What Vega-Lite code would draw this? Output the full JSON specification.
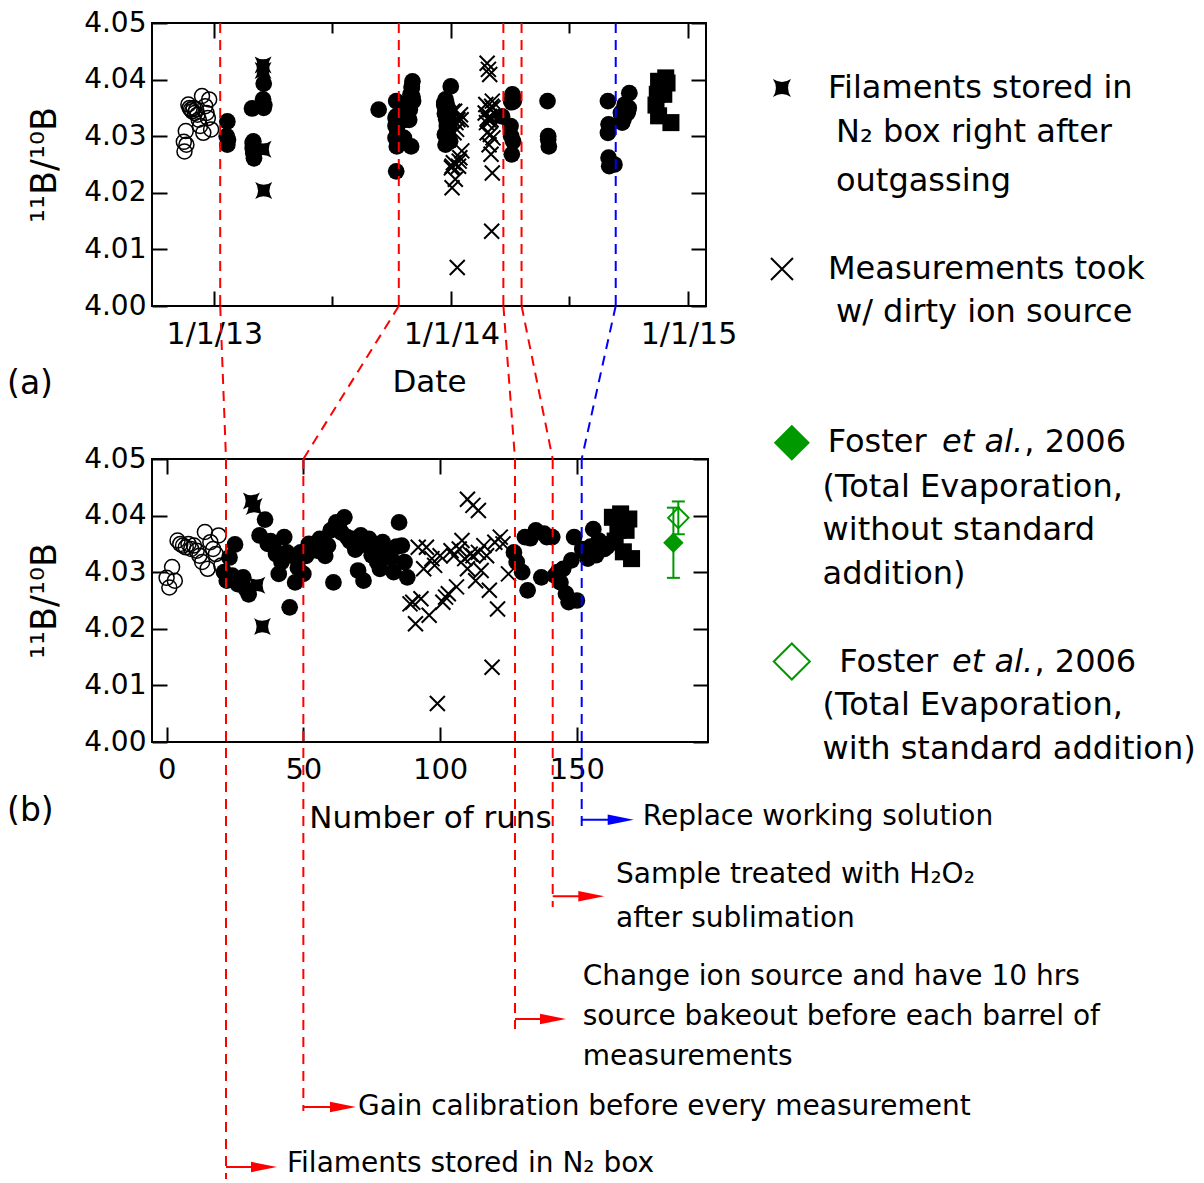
{
  "$schema": "https://vega.github.io/schema/vega-lite/v6.json",
  "padding": {"left": 6, "top": 8, "right": 4, "bottom": 4},
  "background": "white",
  "spacing": 153,
  "bounds": "flush",
  "config": {
    "font": "DejaVu Sans",
    "view": {"stroke": "black", "strokeWidth": 2},
    "axis": {
      "domain": false,
      "grid": false,
      "tickColor": "black",
      "tickWidth": 2,
      "labelColor": "black",
      "labelFont": "DejaVu Sans",
      "titleFont": "DejaVu Sans",
      "titleFontWeight": "normal",
      "titleColor": "black",
      "labelFlush": false,
      "labelOverlap": false
    }
  },
  "datasets": {
    "runs": [
      {"run": 0, "date": "2012-11-15", "ratio": 4.0290, "type": "open"},
      {"run": 1, "date": "2012-11-16", "ratio": 4.0273, "type": "open"},
      {"run": 2, "date": "2012-11-18", "ratio": 4.0309, "type": "open"},
      {"run": 3, "date": "2012-11-19", "ratio": 4.0285, "type": "open"},
      {"run": 4, "date": "2012-11-22", "ratio": 4.0356, "type": "open"},
      {"run": 5, "date": "2012-11-24", "ratio": 4.0350, "type": "open"},
      {"run": 6, "date": "2012-11-26", "ratio": 4.0347, "type": "open"},
      {"run": 7, "date": "2012-11-28", "ratio": 4.0344, "type": "open"},
      {"run": 8, "date": "2012-11-30", "ratio": 4.0350, "type": "open"},
      {"run": 9, "date": "2012-12-02", "ratio": 4.0341, "type": "open"},
      {"run": 10, "date": "2012-12-04", "ratio": 4.0347, "type": "open"},
      {"run": 11, "date": "2012-12-06", "ratio": 4.0338, "type": "open"},
      {"run": 12, "date": "2012-12-08", "ratio": 4.0329, "type": "open"},
      {"run": 13, "date": "2012-12-10", "ratio": 4.0318, "type": "open"},
      {"run": 14, "date": "2012-12-13", "ratio": 4.0371, "type": "open"},
      {"run": 15, "date": "2012-12-15", "ratio": 4.0306, "type": "open"},
      {"run": 16, "date": "2012-12-18", "ratio": 4.0353, "type": "open"},
      {"run": 17, "date": "2012-12-20", "ratio": 4.0341, "type": "open"},
      {"run": 18, "date": "2012-12-22", "ratio": 4.0332, "type": "open"},
      {"run": 19, "date": "2012-12-24", "ratio": 4.0365, "type": "open"},
      {"run": 20, "date": "2012-12-27", "ratio": 4.0312, "type": "open"},
      {"run": 21, "date": "2013-01-20", "ratio": 4.0300, "type": "filled"},
      {"run": 22, "date": "2013-01-21", "ratio": 4.0285, "type": "filled"},
      {"run": 23, "date": "2013-01-21", "ratio": 4.0326, "type": "filled"},
      {"run": 24, "date": "2013-01-22", "ratio": 4.0294, "type": "filled"},
      {"run": 25, "date": "2013-02-28", "ratio": 4.0349, "type": "filled"},
      {"run": 26, "date": "2013-03-01", "ratio": 4.0279, "type": "filled"},
      {"run": 27, "date": "2013-03-01", "ratio": 4.0288, "type": "filled"},
      {"run": 28, "date": "2013-03-02", "ratio": 4.0291, "type": "filled"},
      {"run": 29, "date": "2013-03-02", "ratio": 4.0270, "type": "filled"},
      {"run": 30, "date": "2013-03-03", "ratio": 4.0261, "type": "filled"},
      {"run": 31, "date": "2013-03-17", "ratio": 4.0426, "type": "star"},
      {"run": 32, "date": "2013-03-17", "ratio": 4.0416, "type": "star"},
      {"run": 33, "date": "2013-03-17", "ratio": 4.0277, "type": "star"},
      {"run": 34, "date": "2013-03-17", "ratio": 4.0365, "type": "filled"},
      {"run": 35, "date": "2013-03-18", "ratio": 4.0204, "type": "star"},
      {"run": 36, "date": "2013-03-18", "ratio": 4.0393, "type": "filled"},
      {"run": 37, "date": "2013-03-18", "ratio": 4.0350, "type": "filled"},
      {"run": 38, "date": "2013-03-19", "ratio": 4.0355, "type": "filled"},
      {"run": 39, "date": "2013-09-11", "ratio": 4.0347, "type": "filled"},
      {"run": 40, "date": "2013-10-07", "ratio": 4.0332, "type": "filled"},
      {"run": 41, "date": "2013-10-07", "ratio": 4.0297, "type": "filled"},
      {"run": 42, "date": "2013-10-07", "ratio": 4.0318, "type": "filled"},
      {"run": 43, "date": "2013-10-08", "ratio": 4.0362, "type": "filled"},
      {"run": 44, "date": "2013-10-08", "ratio": 4.0335, "type": "filled"},
      {"run": 45, "date": "2013-10-08", "ratio": 4.0238, "type": "filled"},
      {"run": 46, "date": "2013-10-09", "ratio": 4.0329, "type": "filled"},
      {"run": 47, "date": "2013-10-09", "ratio": 4.0282, "type": "filled"},
      {"run": 48, "date": "2013-10-10", "ratio": 4.0308, "type": "filled"},
      {"run": 49, "date": "2013-10-10", "ratio": 4.0335, "type": "filled"},
      {"run": 50, "date": "2013-10-20", "ratio": 4.0297, "type": "filled"},
      {"run": 51, "date": "2013-10-21", "ratio": 4.0329, "type": "filled"},
      {"run": 52, "date": "2013-10-22", "ratio": 4.0350, "type": "filled"},
      {"run": 53, "date": "2013-10-23", "ratio": 4.0341, "type": "filled"},
      {"run": 54, "date": "2013-10-24", "ratio": 4.0344, "type": "filled"},
      {"run": 55, "date": "2013-10-25", "ratio": 4.0338, "type": "filled"},
      {"run": 56, "date": "2013-10-26", "ratio": 4.0359, "type": "filled"},
      {"run": 57, "date": "2013-10-27", "ratio": 4.0352, "type": "filled"},
      {"run": 58, "date": "2013-10-28", "ratio": 4.0329, "type": "filled"},
      {"run": 59, "date": "2013-10-29", "ratio": 4.0347, "type": "filled"},
      {"run": 60, "date": "2013-10-30", "ratio": 4.0374, "type": "filled"},
      {"run": 61, "date": "2013-10-31", "ratio": 4.0282, "type": "filled"},
      {"run": 62, "date": "2013-11-01", "ratio": 4.0388, "type": "filled"},
      {"run": 63, "date": "2013-11-01", "ratio": 4.0385, "type": "filled"},
      {"run": 64, "date": "2013-11-02", "ratio": 4.0370, "type": "filled"},
      {"run": 65, "date": "2013-11-02", "ratio": 4.0397, "type": "filled"},
      {"run": 66, "date": "2013-11-03", "ratio": 4.0362, "type": "filled"},
      {"run": 67, "date": "2013-12-21", "ratio": 4.0355, "type": "filled"},
      {"run": 68, "date": "2013-12-21", "ratio": 4.0359, "type": "filled"},
      {"run": 69, "date": "2013-12-22", "ratio": 4.0340, "type": "filled"},
      {"run": 70, "date": "2013-12-22", "ratio": 4.0303, "type": "filled"},
      {"run": 71, "date": "2013-12-23", "ratio": 4.0365, "type": "filled"},
      {"run": 72, "date": "2013-12-23", "ratio": 4.0285, "type": "filled"},
      {"run": 73, "date": "2013-12-23", "ratio": 4.0348, "type": "filled"},
      {"run": 74, "date": "2013-12-24", "ratio": 4.0359, "type": "filled"},
      {"run": 75, "date": "2013-12-24", "ratio": 4.0330, "type": "filled"},
      {"run": 76, "date": "2013-12-24", "ratio": 4.0347, "type": "filled"},
      {"run": 77, "date": "2013-12-25", "ratio": 4.0318, "type": "filled"},
      {"run": 78, "date": "2013-12-25", "ratio": 4.0306, "type": "filled"},
      {"run": 79, "date": "2013-12-25", "ratio": 4.0353, "type": "filled"},
      {"run": 80, "date": "2013-12-26", "ratio": 4.0340, "type": "filled"},
      {"run": 81, "date": "2013-12-26", "ratio": 4.0335, "type": "filled"},
      {"run": 82, "date": "2013-12-27", "ratio": 4.0325, "type": "filled"},
      {"run": 83, "date": "2013-12-27", "ratio": 4.0300, "type": "filled"},
      {"run": 84, "date": "2013-12-28", "ratio": 4.0345, "type": "filled"},
      {"run": 85, "date": "2013-12-31", "ratio": 4.0388, "type": "filled"},
      {"run": 86, "date": "2013-12-28", "ratio": 4.0347, "type": "filled"},
      {"run": 87, "date": "2013-12-29", "ratio": 4.0318, "type": "filled"},
      {"run": 88, "date": "2013-12-30", "ratio": 4.0291, "type": "filled"},
      {"run": 89, "date": "2014-01-01", "ratio": 4.0244, "type": "dirty"},
      {"run": 90, "date": "2014-01-02", "ratio": 4.0247, "type": "dirty"},
      {"run": 91, "date": "2014-01-02", "ratio": 4.0209, "type": "dirty"},
      {"run": 92, "date": "2014-01-03", "ratio": 4.0344, "type": "dirty"},
      {"run": 93, "date": "2014-01-04", "ratio": 4.0253, "type": "dirty"},
      {"run": 94, "date": "2014-01-05", "ratio": 4.0306, "type": "dirty"},
      {"run": 95, "date": "2014-01-06", "ratio": 4.0344, "type": "dirty"},
      {"run": 96, "date": "2014-01-07", "ratio": 4.0224, "type": "dirty"},
      {"run": 97, "date": "2014-01-08", "ratio": 4.0324, "type": "dirty"},
      {"run": 98, "date": "2014-01-09", "ratio": 4.0312, "type": "dirty"},
      {"run": 99, "date": "2014-01-10", "ratio": 4.0068, "type": "dirty"},
      {"run": 100, "date": "2014-01-11", "ratio": 4.0329, "type": "dirty"},
      {"run": 101, "date": "2014-01-12", "ratio": 4.0247, "type": "dirty"},
      {"run": 102, "date": "2014-01-13", "ratio": 4.0256, "type": "dirty"},
      {"run": 103, "date": "2014-01-14", "ratio": 4.0262, "type": "dirty"},
      {"run": 104, "date": "2014-01-15", "ratio": 4.0338, "type": "dirty"},
      {"run": 105, "date": "2014-01-16", "ratio": 4.0329, "type": "dirty"},
      {"run": 106, "date": "2014-01-17", "ratio": 4.0274, "type": "dirty"},
      {"run": 107, "date": "2014-02-22", "ratio": 4.0341, "type": "dirty"},
      {"run": 108, "date": "2014-02-23", "ratio": 4.0356, "type": "dirty"},
      {"run": 109, "date": "2014-02-24", "ratio": 4.0324, "type": "dirty"},
      {"run": 110, "date": "2014-02-25", "ratio": 4.0306, "type": "dirty"},
      {"run": 110, "date": "2014-02-25", "ratio": 4.0429, "type": "dirty"},
      {"run": 111, "date": "2014-02-26", "ratio": 4.0332, "type": "dirty"},
      {"run": 112, "date": "2014-02-27", "ratio": 4.0418, "type": "dirty"},
      {"run": 112, "date": "2014-02-27", "ratio": 4.0329, "type": "dirty"},
      {"run": 113, "date": "2014-02-28", "ratio": 4.0285, "type": "dirty"},
      {"run": 114, "date": "2014-03-01", "ratio": 4.0335, "type": "dirty"},
      {"run": 114, "date": "2014-03-01", "ratio": 4.0409, "type": "dirty"},
      {"run": 115, "date": "2014-03-02", "ratio": 4.0303, "type": "dirty"},
      {"run": 116, "date": "2014-03-02", "ratio": 4.0347, "type": "dirty"},
      {"run": 117, "date": "2014-03-03", "ratio": 4.0329, "type": "dirty"},
      {"run": 118, "date": "2014-03-03", "ratio": 4.0268, "type": "dirty"},
      {"run": 119, "date": "2014-03-04", "ratio": 4.0132, "type": "dirty"},
      {"run": 120, "date": "2014-03-04", "ratio": 4.0353, "type": "dirty"},
      {"run": 121, "date": "2014-03-05", "ratio": 4.0235, "type": "dirty"},
      {"run": 122, "date": "2014-03-05", "ratio": 4.0362, "type": "dirty"},
      {"run": 123, "date": "2014-03-06", "ratio": 4.0350, "type": "dirty"},
      {"run": 125, "date": "2014-03-06", "ratio": 4.0297, "type": "dirty"},
      {"run": 127, "date": "2014-03-20", "ratio": 4.0335, "type": "filled"},
      {"run": 128, "date": "2014-04-02", "ratio": 4.0318, "type": "filled"},
      {"run": 130, "date": "2014-04-03", "ratio": 4.0300, "type": "filled"},
      {"run": 131, "date": "2014-04-03", "ratio": 4.0362, "type": "filled"},
      {"run": 132, "date": "2014-04-04", "ratio": 4.0268, "type": "filled"},
      {"run": 133, "date": "2014-04-04", "ratio": 4.0360, "type": "filled"},
      {"run": 135, "date": "2014-04-05", "ratio": 4.0374, "type": "filled"},
      {"run": 137, "date": "2014-04-06", "ratio": 4.0291, "type": "filled"},
      {"run": 138, "date": "2014-04-06", "ratio": 4.0368, "type": "filled"},
      {"run": 139, "date": "2014-04-07", "ratio": 4.0362, "type": "filled"},
      {"run": 141, "date": "2014-05-29", "ratio": 4.0362, "type": "filled"},
      {"run": 142, "date": "2014-05-30", "ratio": 4.0294, "type": "filled"},
      {"run": 143, "date": "2014-05-30", "ratio": 4.0300, "type": "filled"},
      {"run": 144, "date": "2014-05-31", "ratio": 4.0282, "type": "filled"},
      {"run": 145, "date": "2014-08-30", "ratio": 4.0306, "type": "filled"},
      {"run": 146, "date": "2014-08-31", "ratio": 4.0262, "type": "filled"},
      {"run": 147, "date": "2014-09-01", "ratio": 4.0247, "type": "filled"},
      {"run": 148, "date": "2014-08-31", "ratio": 4.0321, "type": "filled"},
      {"run": 149, "date": "2014-08-30", "ratio": 4.0362, "type": "filled"},
      {"run": 150, "date": "2014-09-09", "ratio": 4.0250, "type": "filled"},
      {"run": 152, "date": "2014-09-19", "ratio": 4.0341, "type": "filled"},
      {"run": 153, "date": "2014-09-20", "ratio": 4.0335, "type": "filled"},
      {"run": 154, "date": "2014-09-21", "ratio": 4.0324, "type": "filled"},
      {"run": 155, "date": "2014-09-22", "ratio": 4.0345, "type": "filled"},
      {"run": 156, "date": "2014-10-02", "ratio": 4.0376, "type": "filled"},
      {"run": 157, "date": "2014-09-23", "ratio": 4.0330, "type": "filled"},
      {"run": 158, "date": "2014-09-25", "ratio": 4.0356, "type": "filled"},
      {"run": 159, "date": "2014-09-27", "ratio": 4.0350, "type": "filled"},
      {"run": 160, "date": "2014-09-29", "ratio": 4.0341, "type": "filled"},
      {"run": 161, "date": "2014-09-30", "ratio": 4.0345, "type": "filled"},
      {"run": 162, "date": "2014-10-01", "ratio": 4.0350, "type": "filled"},
      {"run": 163, "date": "2014-11-16", "ratio": 4.0397, "type": "square"},
      {"run": 164, "date": "2014-11-12", "ratio": 4.0355, "type": "square"},
      {"run": 165, "date": "2014-11-14", "ratio": 4.0374, "type": "square"},
      {"run": 166, "date": "2014-11-27", "ratio": 4.0403, "type": "square"},
      {"run": 167, "date": "2014-11-16", "ratio": 4.0336, "type": "square"},
      {"run": 168, "date": "2014-11-24", "ratio": 4.0374, "type": "square"},
      {"run": 169, "date": "2014-11-29", "ratio": 4.0394, "type": "square"},
      {"run": 170, "date": "2014-12-05", "ratio": 4.0324, "type": "square"}
    ],
    "foster": [
      {"run": 185.3, "ratio": 4.0352, "lo": 4.0290, "hi": 4.0414, "method": "without"},
      {"run": 187.1, "ratio": 4.0396, "lo": 4.0367, "hi": 4.0425, "method": "with"}
    ],
    "events": [
      {"date": "2013-01-10", "kind": "sample"},
      {"date": "2013-10-12", "kind": "sample"},
      {"date": "2014-03-22", "kind": "sample"},
      {"date": "2014-04-19", "kind": "sample"},
      {"date": "2014-09-11", "kind": "solution"}
    ],
    "guides": [
      {"x": 19.6, "x2": 21.72, "y": 4.07703, "y2": 4.05, "kind": "sample"},
      {"x": 21.72, "x2": 21.72, "y": 4.05, "y2": 3.9228, "kind": "sample"},
      {"x": 84.9, "x2": 50, "y": 4.07703, "y2": 4.05, "kind": "sample"},
      {"x": 50, "x2": 50, "y": 4.05, "y2": 3.93481, "kind": "sample"},
      {"x": 123.15, "x2": 127.39, "y": 4.07703, "y2": 4.05, "kind": "sample"},
      {"x": 127.39, "x2": 127.39, "y": 4.05, "y2": 3.94929, "kind": "sample"},
      {"x": 129.8, "x2": 141.17, "y": 4.07703, "y2": 4.05, "kind": "sample"},
      {"x": 141.17, "x2": 141.17, "y": 4.05, "y2": 3.97085, "kind": "sample"},
      {"x": 164.2, "x2": 151.77, "y": 4.07703, "y2": 4.05, "kind": "solution"},
      {"x": 151.77, "x2": 151.77, "y": 4.05, "y2": 3.98445, "kind": "solution"}
    ],
    "arrows": [
      {"x": 21.72, "x2": 35.61, "y": 3.92491, "kind": "sample"},
      {"x": 50, "x2": 64.5, "y": 3.93551, "kind": "sample"},
      {"x": 127.39, "x2": 141.28, "y": 3.95106, "kind": "sample"},
      {"x": 141.17, "x2": 155.28, "y": 3.97274, "kind": "sample"},
      {"x": 151.77, "x2": 166.03, "y": 3.98627, "kind": "solution"}
    ],
    "keys": [
      {"x": 225.0, "y": 4.11555, "sym": "star"},
      {"x": 225.0, "y": 4.08357, "sym": "cross"},
      {"x": 228.6, "y": 4.05288, "sym": "without"},
      {"x": 228.6, "y": 4.01422, "sym": "with"}
    ],
    "labels": [
      {"x": 241.83, "y": 4.11555, "text": "Filaments stored in", "role": "key"},
      {"x": 244.75, "y": 4.10777, "text": "N₂ box right after", "role": "key"},
      {"x": 244.75, "y": 4.09912, "text": "outgassing", "role": "key"},
      {"x": 241.83, "y": 4.08357, "text": "Measurements took", "role": "key"},
      {"x": 244.75, "y": 4.07597, "text": "w/ dirty ion source", "role": "key"},
      {"x": 241.72, "y": 4.05300, "text": "Foster", "role": "key"},
      {"x": 283.5, "y": 4.05300, "text": "et al.", "role": "keyItalic"},
      {"x": 313.6, "y": 4.05300, "text": ", 2006", "role": "key"},
      {"x": 239.86, "y": 4.04505, "text": "(Total Evaporation,", "role": "key"},
      {"x": 239.86, "y": 4.03746, "text": "without standard", "role": "key"},
      {"x": 239.86, "y": 4.02968, "text": "addition)", "role": "key"},
      {"x": 245.96, "y": 4.01413, "text": "Foster", "role": "key"},
      {"x": 287.2, "y": 4.01413, "text": "et al.", "role": "keyItalic"},
      {"x": 317.3, "y": 4.01413, "text": ", 2006", "role": "key"},
      {"x": 239.86, "y": 4.00654, "text": "(Total Evaporation,", "role": "key"},
      {"x": 239.86, "y": 3.99876, "text": "with standard addition)", "role": "key"},
      {"x": 174.08, "y": 3.98675, "text": "Replace working solution", "role": "note"},
      {"x": 164.31, "y": 3.97650, "text": "Sample treated with H₂O₂", "role": "note"},
      {"x": 164.31, "y": 3.96873, "text": "after sublimation", "role": "note"},
      {"x": 152.14, "y": 3.95848, "text": "Change ion source and have 10 hrs", "role": "note"},
      {"x": 152.14, "y": 3.95141, "text": "source bakeout before each barrel of", "role": "note"},
      {"x": 152.14, "y": 3.94435, "text": "measurements", "role": "note"},
      {"x": 69.96, "y": 3.93551, "text": "Gain calibration before every measurement", "role": "note"},
      {"x": 44.02, "y": 3.92544, "text": "Filaments stored in N₂ box", "role": "note"},
      {"x": -58.35, "y": 4.06325, "text": "(a)", "role": "tag"},
      {"x": -58.35, "y": 3.98781, "text": "(b)", "role": "tag"}
    ]
  },
  "vconcat": [
    {
      "width": 554,
      "height": 283,
      "resolve": {"axis": {"x": "independent", "y": "independent"}},
      "layer": [
        {
          "data": {"name": "runs"},
          "transform": [{"filter": "datum.type === 'filled'"}],
          "mark": {"type": "point", "shape": "circle", "filled": true, "color": "black", "size": 280, "opacity": 1},
          "encoding": {
            "x": {"field": "date", "type": "temporal",
              "scale": {"type": "utc", "domain": [{"year": 2012, "month": 9, "date": 27, "utc": true}, {"year": 2015, "month": 1, "date": 28, "utc": true}], "nice": false},
              "axis": {"orient": "bottom",
                "values": [{"year": 2013, "month": 1, "date": 1, "utc": true}, {"year": 2013, "month": 7, "date": 1, "utc": true}, {"year": 2014, "month": 1, "date": 1, "utc": true}, {"year": 2014, "month": 7, "date": 1, "utc": true}, {"year": 2015, "month": 1, "date": 1, "utc": true}],
                "labelExpr": "utcmonth(datum.value) === 0 ? utcFormat(datum.value, '%-m/%-d/%y') : ''",
                "tickSize": {"condition": {"test": "utcmonth(datum.value) === 0", "value": -15}, "value": -10},
                "labelPadding": 28, "labelFontSize": 30,
                "title": "Date", "titleFontSize": 31, "titlePadding": 13}},
            "y": {"field": "ratio", "type": "quantitative",
              "scale": {"domain": [4.0, 4.05], "nice": false, "zero": false},
              "axis": {"orient": "left", "values": [4.0, 4.01, 4.02, 4.03, 4.04, 4.05], "format": ".2f",
                "tickSize": -15, "labelPadding": 21, "labelFontSize": 28,
                "title": "¹¹B/¹⁰B", "titleFontSize": 35, "titlePadding": 21}}
          }
        },
        {
          "data": {"name": "runs"},
          "transform": [{"filter": "datum.type === 'open'"}],
          "mark": {"type": "point", "shape": "circle", "filled": false, "stroke": "black", "strokeWidth": 1.5, "size": 225, "opacity": 1},
          "encoding": {
            "x": {"field": "date", "type": "temporal",
              "scale": {"type": "utc", "domain": [{"year": 2012, "month": 9, "date": 27, "utc": true}, {"year": 2015, "month": 1, "date": 28, "utc": true}], "nice": false},
              "axis": {"orient": "top",
                "values": [{"year": 2013, "month": 1, "date": 1, "utc": true}, {"year": 2013, "month": 7, "date": 1, "utc": true}, {"year": 2014, "month": 1, "date": 1, "utc": true}, {"year": 2014, "month": 7, "date": 1, "utc": true}, {"year": 2015, "month": 1, "date": 1, "utc": true}],
                "tickSize": {"condition": {"test": "utcmonth(datum.value) === 0", "value": -15}, "value": -10},
                "labels": false, "title": null}},
            "y": {"field": "ratio", "type": "quantitative",
              "scale": {"domain": [4.0, 4.05], "nice": false, "zero": false},
              "axis": {"orient": "right", "values": [4.0, 4.01, 4.02, 4.03, 4.04, 4.05], "tickSize": -15, "labels": false, "title": null}}
          }
        },
        {
          "data": {"name": "runs"},
          "transform": [{"filter": "datum.type === 'star'"}],
          "mark": {"type": "point", "shape": "M-1,-1Q0,-0.35,1,-1Q0.35,0,1,1Q0,0.35,-1,1Q-0.35,0,-1,-1Z", "filled": true, "color": "black", "size": 289, "opacity": 1},
          "encoding": {
            "x": {"field": "date", "type": "temporal", "scale": {"type": "utc", "domain": [{"year": 2012, "month": 9, "date": 27, "utc": true}, {"year": 2015, "month": 1, "date": 28, "utc": true}], "nice": false}, "axis": null},
            "y": {"field": "ratio", "type": "quantitative", "scale": {"domain": [4.0, 4.05], "nice": false, "zero": false}, "axis": null}
          }
        },
        {
          "data": {"name": "runs"},
          "transform": [{"filter": "datum.type === 'dirty'"}],
          "mark": {"type": "point", "shape": "M-1,-1L1,1M-1,1L1,-1", "filled": false, "stroke": "black", "strokeWidth": 2, "size": 225, "opacity": 1},
          "encoding": {
            "x": {"field": "date", "type": "temporal", "scale": {"type": "utc", "domain": [{"year": 2012, "month": 9, "date": 27, "utc": true}, {"year": 2015, "month": 1, "date": 28, "utc": true}], "nice": false}, "axis": null},
            "y": {"field": "ratio", "type": "quantitative", "scale": {"domain": [4.0, 4.05], "nice": false, "zero": false}, "axis": null}
          }
        },
        {
          "data": {"name": "runs"},
          "transform": [{"filter": "datum.type === 'square'"}],
          "mark": {"type": "point", "shape": "square", "filled": true, "color": "black", "size": 290, "opacity": 1},
          "encoding": {
            "x": {"field": "date", "type": "temporal", "scale": {"type": "utc", "domain": [{"year": 2012, "month": 9, "date": 27, "utc": true}, {"year": 2015, "month": 1, "date": 28, "utc": true}], "nice": false}, "axis": null},
            "y": {"field": "ratio", "type": "quantitative", "scale": {"domain": [4.0, 4.05], "nice": false, "zero": false}, "axis": null}
          }
        },
        {
          "data": {"name": "events"},
          "mark": {"type": "rule", "strokeDash": [10, 7], "strokeWidth": 2},
          "encoding": {
            "x": {"field": "date", "type": "temporal", "scale": {"type": "utc", "domain": [{"year": 2012, "month": 9, "date": 27, "utc": true}, {"year": 2015, "month": 1, "date": 28, "utc": true}], "nice": false}, "axis": null},
            "stroke": {"field": "kind", "type": "nominal", "scale": {"domain": ["sample", "solution"], "range": ["#ff0000", "#0000ff"]}, "legend": null}
          }
        }
      ]
    },
    {
      "width": 556,
      "height": 283,
      "resolve": {"axis": {"x": "independent", "y": "independent"}},
      "layer": [
        {
          "data": {"name": "runs"},
          "transform": [{"filter": "datum.type === 'filled'"}],
          "mark": {"type": "point", "shape": "circle", "filled": true, "color": "black", "size": 280, "opacity": 1},
          "encoding": {
            "x": {"field": "run", "type": "quantitative", "scale": {"domain": [-5.34, 197.95], "nice": false, "zero": false},
              "axis": {"orient": "bottom", "values": [0, 50, 100, 150], "format": "d", "tickSize": -15, "labelPadding": 28, "labelFontSize": 29,
                "title": "Number of runs", "titleFontSize": 31, "titlePadding": 19}},
            "y": {"field": "ratio", "type": "quantitative", "scale": {"domain": [4.0, 4.05], "nice": false, "zero": false},
              "axis": {"orient": "left", "values": [4.0, 4.01, 4.02, 4.03, 4.04, 4.05], "format": ".2f",
                "tickSize": -15, "labelPadding": 21, "labelFontSize": 28,
                "title": "¹¹B/¹⁰B", "titleFontSize": 35, "titlePadding": 21}}
          }
        },
        {
          "data": {"name": "runs"},
          "transform": [{"filter": "datum.type === 'open'"}],
          "mark": {"type": "point", "shape": "circle", "filled": false, "stroke": "black", "strokeWidth": 1.5, "size": 225, "opacity": 1},
          "encoding": {
            "x": {"field": "run", "type": "quantitative", "scale": {"domain": [-5.34, 197.95], "nice": false, "zero": false},
              "axis": {"orient": "top", "values": [0, 50, 100, 150], "tickSize": -15, "labels": false, "title": null}},
            "y": {"field": "ratio", "type": "quantitative", "scale": {"domain": [4.0, 4.05], "nice": false, "zero": false},
              "axis": {"orient": "right", "values": [4.0, 4.01, 4.02, 4.03, 4.04, 4.05], "tickSize": -15, "labels": false, "title": null}}
          }
        },
        {
          "data": {"name": "runs"},
          "transform": [{"filter": "datum.type === 'star'"}],
          "mark": {"type": "point", "shape": "M-1,-1Q0,-0.35,1,-1Q0.35,0,1,1Q0,0.35,-1,1Q-0.35,0,-1,-1Z", "filled": true, "color": "black", "size": 289, "opacity": 1},
          "encoding": {
            "x": {"field": "run", "type": "quantitative", "scale": {"domain": [-5.34, 197.95], "nice": false, "zero": false}, "axis": null},
            "y": {"field": "ratio", "type": "quantitative", "scale": {"domain": [4.0, 4.05], "nice": false, "zero": false}, "axis": null}
          }
        },
        {
          "data": {"name": "runs"},
          "transform": [{"filter": "datum.type === 'dirty'"}],
          "mark": {"type": "point", "shape": "M-1,-1L1,1M-1,1L1,-1", "filled": false, "stroke": "black", "strokeWidth": 2, "size": 225, "opacity": 1},
          "encoding": {
            "x": {"field": "run", "type": "quantitative", "scale": {"domain": [-5.34, 197.95], "nice": false, "zero": false}, "axis": null},
            "y": {"field": "ratio", "type": "quantitative", "scale": {"domain": [4.0, 4.05], "nice": false, "zero": false}, "axis": null}
          }
        },
        {
          "data": {"name": "runs"},
          "transform": [{"filter": "datum.type === 'square'"}],
          "mark": {"type": "point", "shape": "square", "filled": true, "color": "black", "size": 290, "opacity": 1},
          "encoding": {
            "x": {"field": "run", "type": "quantitative", "scale": {"domain": [-5.34, 197.95], "nice": false, "zero": false}, "axis": null},
            "y": {"field": "ratio", "type": "quantitative", "scale": {"domain": [4.0, 4.05], "nice": false, "zero": false}, "axis": null}
          }
        },
        {
          "data": {"name": "foster"},
          "mark": {"type": "rule", "color": "#009900", "strokeWidth": 2},
          "encoding": {
            "x": {"field": "run", "type": "quantitative", "scale": {"domain": [-5.34, 197.95], "nice": false, "zero": false}, "axis": null},
            "y": {"field": "lo", "type": "quantitative", "scale": {"domain": [4.0, 4.05], "nice": false, "zero": false}, "axis": null},
            "y2": {"field": "hi"}
          }
        },
        {
          "data": {"name": "foster"},
          "mark": {"type": "point", "shape": "M-1,0L1,0", "filled": false, "stroke": "#009900", "strokeWidth": 2, "size": 169, "opacity": 1},
          "encoding": {
            "x": {"field": "run", "type": "quantitative", "scale": {"domain": [-5.34, 197.95], "nice": false, "zero": false}, "axis": null},
            "y": {"field": "lo", "type": "quantitative", "scale": {"domain": [4.0, 4.05], "nice": false, "zero": false}, "axis": null}
          }
        },
        {
          "data": {"name": "foster"},
          "mark": {"type": "point", "shape": "M-1,0L1,0", "filled": false, "stroke": "#009900", "strokeWidth": 2, "size": 169, "opacity": 1},
          "encoding": {
            "x": {"field": "run", "type": "quantitative", "scale": {"domain": [-5.34, 197.95], "nice": false, "zero": false}, "axis": null},
            "y": {"field": "hi", "type": "quantitative", "scale": {"domain": [4.0, 4.05], "nice": false, "zero": false}, "axis": null}
          }
        },
        {
          "data": {"name": "foster"},
          "transform": [{"filter": "datum.method === 'without'"}],
          "mark": {"type": "point", "shape": "diamond", "filled": true, "color": "#009900", "size": 420, "opacity": 1},
          "encoding": {
            "x": {"field": "run", "type": "quantitative", "scale": {"domain": [-5.34, 197.95], "nice": false, "zero": false}, "axis": null},
            "y": {"field": "ratio", "type": "quantitative", "scale": {"domain": [4.0, 4.05], "nice": false, "zero": false}, "axis": null}
          }
        },
        {
          "data": {"name": "foster"},
          "transform": [{"filter": "datum.method === 'with'"}],
          "mark": {"type": "point", "shape": "diamond", "filled": false, "stroke": "#009900", "strokeWidth": 2, "size": 420, "opacity": 1},
          "encoding": {
            "x": {"field": "run", "type": "quantitative", "scale": {"domain": [-5.34, 197.95], "nice": false, "zero": false}, "axis": null},
            "y": {"field": "ratio", "type": "quantitative", "scale": {"domain": [4.0, 4.05], "nice": false, "zero": false}, "axis": null}
          }
        },
        {
          "data": {"name": "guides"},
          "mark": {"type": "rule", "strokeDash": [10, 7], "strokeWidth": 2},
          "encoding": {
            "x": {"field": "x", "type": "quantitative", "scale": {"domain": [-5.34, 197.95], "nice": false, "zero": false}, "axis": null},
            "x2": {"field": "x2"},
            "y": {"field": "y", "type": "quantitative", "scale": {"domain": [4.0, 4.05], "nice": false, "zero": false}, "axis": null},
            "y2": {"field": "y2"},
            "stroke": {"field": "kind", "type": "nominal", "scale": {"domain": ["sample", "solution"], "range": ["#ff0000", "#0000ff"]}, "legend": null}
          }
        },
        {
          "data": {"name": "arrows"},
          "mark": {"type": "rule", "strokeWidth": 2},
          "encoding": {
            "x": {"field": "x", "type": "quantitative", "scale": {"domain": [-5.34, 197.95], "nice": false, "zero": false}, "axis": null},
            "x2": {"field": "x2"},
            "y": {"field": "y", "type": "quantitative", "scale": {"domain": [4.0, 4.05], "nice": false, "zero": false}, "axis": null},
            "stroke": {"field": "kind", "type": "nominal", "scale": {"domain": ["sample", "solution"], "range": ["#ff0000", "#0000ff"]}, "legend": null}
          }
        },
        {
          "data": {"name": "arrows"},
          "mark": {"type": "point", "shape": "M-1,-0.4L1,0L-1,0.4Z", "filled": true, "size": 676, "opacity": 1},
          "encoding": {
            "x": {"field": "x2", "type": "quantitative", "scale": {"domain": [-5.34, 197.95], "nice": false, "zero": false}, "axis": null},
            "y": {"field": "y", "type": "quantitative", "scale": {"domain": [4.0, 4.05], "nice": false, "zero": false}, "axis": null},
            "fill": {"field": "kind", "type": "nominal", "scale": {"domain": ["sample", "solution"], "range": ["#ff0000", "#0000ff"]}, "legend": null}
          }
        },
        {
          "data": {"name": "keys"},
          "transform": [{"filter": "datum.sym === 'star'"}],
          "mark": {"type": "point", "shape": "M-1,-1Q0,-0.35,1,-1Q0.35,0,1,1Q0,0.35,-1,1Q-0.35,0,-1,-1Z", "filled": true, "color": "black", "size": 324, "opacity": 1},
          "encoding": {
            "x": {"field": "x", "type": "quantitative", "scale": {"domain": [-5.34, 197.95], "nice": false, "zero": false}, "axis": null},
            "y": {"field": "y", "type": "quantitative", "scale": {"domain": [4.0, 4.05], "nice": false, "zero": false}, "axis": null}
          }
        },
        {
          "data": {"name": "keys"},
          "transform": [{"filter": "datum.sym === 'cross'"}],
          "mark": {"type": "point", "shape": "M-1,-1L1,1M-1,1L1,-1", "filled": false, "stroke": "black", "strokeWidth": 2, "size": 484, "opacity": 1},
          "encoding": {
            "x": {"field": "x", "type": "quantitative", "scale": {"domain": [-5.34, 197.95], "nice": false, "zero": false}, "axis": null},
            "y": {"field": "y", "type": "quantitative", "scale": {"domain": [4.0, 4.05], "nice": false, "zero": false}, "axis": null}
          }
        },
        {
          "data": {"name": "keys"},
          "transform": [{"filter": "datum.sym === 'without'"}],
          "mark": {"type": "point", "shape": "diamond", "filled": true, "color": "#009900", "size": 1300, "opacity": 1},
          "encoding": {
            "x": {"field": "x", "type": "quantitative", "scale": {"domain": [-5.34, 197.95], "nice": false, "zero": false}, "axis": null},
            "y": {"field": "y", "type": "quantitative", "scale": {"domain": [4.0, 4.05], "nice": false, "zero": false}, "axis": null}
          }
        },
        {
          "data": {"name": "keys"},
          "transform": [{"filter": "datum.sym === 'with'"}],
          "mark": {"type": "point", "shape": "diamond", "filled": false, "stroke": "#009900", "strokeWidth": 2, "size": 1300, "opacity": 1},
          "encoding": {
            "x": {"field": "x", "type": "quantitative", "scale": {"domain": [-5.34, 197.95], "nice": false, "zero": false}, "axis": null},
            "y": {"field": "y", "type": "quantitative", "scale": {"domain": [4.0, 4.05], "nice": false, "zero": false}, "axis": null}
          }
        },
        {
          "data": {"name": "labels"},
          "transform": [{"filter": "datum.role === 'key'"}],
          "mark": {"type": "text", "align": "left", "baseline": "middle", "fontSize": 32, "color": "black"},
          "encoding": {
            "x": {"field": "x", "type": "quantitative", "scale": {"domain": [-5.34, 197.95], "nice": false, "zero": false}, "axis": null},
            "y": {"field": "y", "type": "quantitative", "scale": {"domain": [4.0, 4.05], "nice": false, "zero": false}, "axis": null},
            "text": {"field": "text"}
          }
        },
        {
          "data": {"name": "labels"},
          "transform": [{"filter": "datum.role === 'keyItalic'"}],
          "mark": {"type": "text", "align": "left", "baseline": "middle", "fontSize": 32, "fontStyle": "italic", "color": "black"},
          "encoding": {
            "x": {"field": "x", "type": "quantitative", "scale": {"domain": [-5.34, 197.95], "nice": false, "zero": false}, "axis": null},
            "y": {"field": "y", "type": "quantitative", "scale": {"domain": [4.0, 4.05], "nice": false, "zero": false}, "axis": null},
            "text": {"field": "text"}
          }
        },
        {
          "data": {"name": "labels"},
          "transform": [{"filter": "datum.role === 'note'"}],
          "mark": {"type": "text", "align": "left", "baseline": "middle", "fontSize": 28, "color": "black"},
          "encoding": {
            "x": {"field": "x", "type": "quantitative", "scale": {"domain": [-5.34, 197.95], "nice": false, "zero": false}, "axis": null},
            "y": {"field": "y", "type": "quantitative", "scale": {"domain": [4.0, 4.05], "nice": false, "zero": false}, "axis": null},
            "text": {"field": "text"}
          }
        },
        {
          "data": {"name": "labels"},
          "transform": [{"filter": "datum.role === 'tag'"}],
          "mark": {"type": "text", "align": "left", "baseline": "middle", "fontSize": 33, "color": "black"},
          "encoding": {
            "x": {"field": "x", "type": "quantitative", "scale": {"domain": [-5.34, 197.95], "nice": false, "zero": false}, "axis": null},
            "y": {"field": "y", "type": "quantitative", "scale": {"domain": [4.0, 4.05], "nice": false, "zero": false}, "axis": null},
            "text": {"field": "text"}
          }
        }
      ]
    }
  ]
}
